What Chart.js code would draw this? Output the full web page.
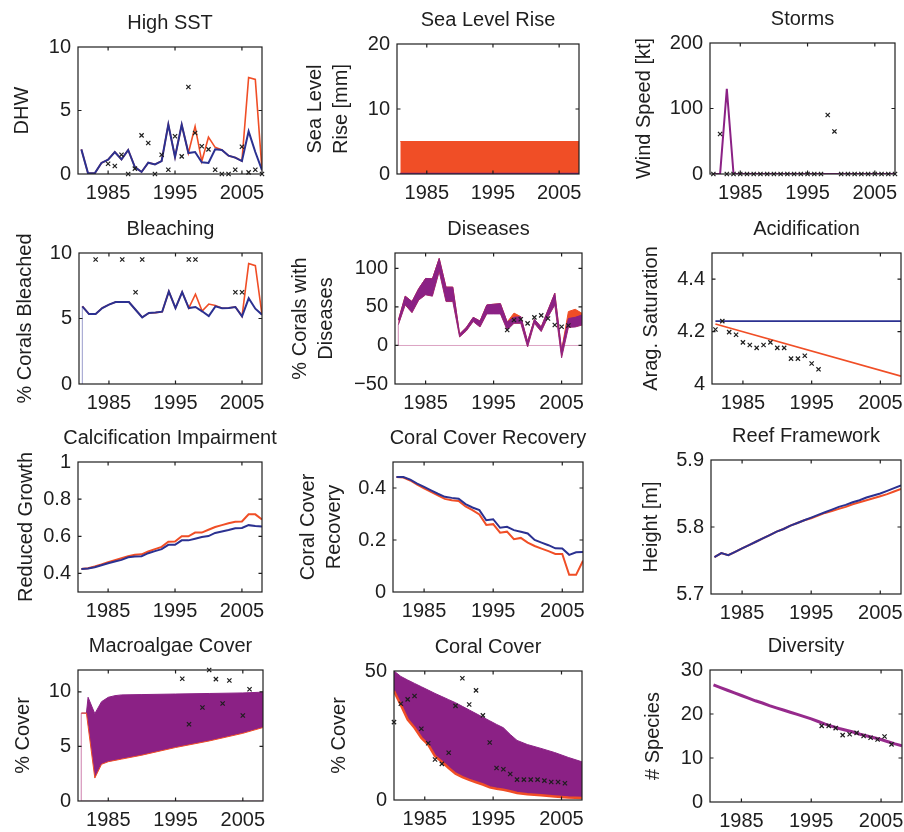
<!DOCTYPE html>
<html>
<head>
<meta charset="utf-8">
<title>Reef model hindcast</title>
<script src="https://cdn.jsdelivr.net/npm/chart.js@4.4.1/dist/chart.umd.min.js"></script>
<style>
  body { margin: 0; background: #fff; }
  #page { position: relative; width: 904px; height: 832px; overflow: hidden; background: #fff; }
  #page canvas { position: absolute; }
</style>
</head>
<body>
<div id="page"></div>
<script>
const years = [1981, 1982, 1983, 1984, 1985, 1986, 1987, 1988, 1989, 1990, 1991, 1992, 1993, 1994,
               1995, 1996, 1997, 1998, 1999, 2000, 2001, 2002, 2003, 2004, 2005, 2006, 2007, 2008]
const yearTicks = [1985, 1995, 2005]

// High SST
const sstBlue = [1.94, 0.05, 0.05, 0.87, 1.13, 1.73, 1.15, 1.89, 0.55, 0.16, 0.89, 0.76, 1.02, 3.9,
                 1.34, 3.88, 1.65, 1.73, 0.92, 0.87, 1.94, 1.89, 1.44, 1.29, 1.02, 3.36, 1.73, 0.3]
const sstRed = [1.94, 0.05, 0.05, 0.87, 1.13, 1.73, 1.15, 1.89, 0.55, 0.16, 0.89, 0.76, 1.02, 3.9,
                1.34, 3.88, 1.65, 3.75, 1.0, 2.9, 2.1, 1.89, 1.44, 1.29, 1.02, 7.6, 7.45, 0.3]
const sstObsYears = [1985, 1986, 1987, 1988, 1989, 1990, 1991, 1992, 1993, 1994, 1995, 1996,
                     1997, 1998, 1999, 2000, 2001, 2002, 2003, 2004, 2005, 2006, 2007, 2008]
const sstObs = [0.81, 0.63, 1.52, 0, 0.42, 3.04, 2.44, 0, 1.52, 0.34, 2.97, 1.39,
                6.85, 3.23, 2.18, 1.94, 0.34, 0, 0, 0.34, 2.15, 0.13, 0.34, 0]
const sstTicks = [0, 5, 10]

// Sea level rise
const slrUpper = [5, 5]
const slrLower = [0, 0]
const slrYears = [1981, 2008]
const slrTicks = [0, 10, 20]

// Storms
const stormModel = [0, 0, 130, 0, 0, 0, 0, 0, 0, 0, 0, 0, 0, 0,
                    0, 0, 0, 0, 0, 0, 0, 0, 0, 0, 0, 0, 0, 0]
const stormObs = [0, 61, 0, 0, 0, 0, 0, 0, 0, 0, 0, 0, 0, 0,
                  0, 0, 0, 90, 65, 0, 0, 0, 0, 0, 0, 0, 0, 0]
const stormTicks = [0, 100, 200]

// Bleaching
const bleachBlue = [5.93, 5.34, 5.34, 5.8, 6.06, 6.26, 6.26, 6.26, 5.67, 5.09, 5.42, 5.45, 5.52, 7.07,
                    5.8, 7.02, 5.8, 5.88, 5.55, 5.19, 5.93, 5.78, 5.8, 5.88, 5.17, 6.54, 5.75, 5.29]
const bleachRed = [5.93, 5.34, 5.34, 5.8, 6.06, 6.26, 6.26, 6.26, 5.67, 5.09, 5.42, 5.45, 5.52, 7.07,
                   5.8, 7.02, 5.8, 6.85, 5.57, 6.1, 6.0, 5.78, 5.8, 5.88, 5.17, 9.19, 9.03, 5.29]
const bleachObsYears = [1983, 1987, 1989, 1990, 1997, 1998, 2004, 2005]
const bleachObs = [9.5, 9.5, 7.0, 9.5, 9.5, 9.5, 7.0, 7.0]
const bleachTicks = [0, 5, 10]

// Diseases
const disUpper = [33, 64, 57, 74, 87, 86.5, 113, 75.7, 75.7, 14.8, 23.5, 36.5, 31.7, 52.6,
                  53.5, 54.3, 30.4, 36.5, 37.4, 5, 34, 24, 46, 67.8, -6, 35, 36.5, 39.6]
const disRedUpper = [33, 64, 57, 74, 87, 86.5, 113, 75.7, 75.7, 14.8, 23.5, 36.5, 31.7, 52.6,
                     53.5, 54.3, 30.4, 42, 37.4, 5, 34, 24, 46, 67.8, -6, 44, 47, 41.7]
const disLower = [27, 52.6, 42.6, 59, 65.7, 64, 96, 57, 57, 11, 19, 31, 24, 41,
                  41, 41, 20, 28.7, 28.7, -2, 28.7, 18, 37, 52.6, -16, 23.5, 24, 26.5]
const disObsYears = [1997, 1998, 1999, 2000, 2001, 2002, 2003, 2004, 2005, 2006]
const disObs = [20, 33, 34, 28.7, 36.5, 39, 35, 26.5, 24.3, 26]
const disTicks = [-50, 0, 50, 100]

// Acidification
const acidYears = [1981, 2008]
const acidBlue = [4.24, 4.24]
const acidRed = [4.229, 4.03]
const acidObsYears = [1981, 1982, 1983, 1984, 1985, 1986, 1987, 1988, 1989, 1990, 1991, 1992, 1993, 1994, 1995, 1996]
const acidObs = [4.208, 4.24, 4.198, 4.188, 4.159, 4.149, 4.138, 4.149, 4.159, 4.138, 4.138, 4.097, 4.097, 4.108, 4.078, 4.056]
const acidTicks = [4, 4.2, 4.4]

// Calcification impairment
const calcRed = [0.424, 0.428, 0.437, 0.448, 0.46, 0.471, 0.482, 0.493, 0.5, 0.503, 0.518, 0.531, 0.543, 0.571,
                 0.572, 0.6, 0.6, 0.62, 0.62, 0.635, 0.65, 0.66, 0.67, 0.678, 0.68, 0.718, 0.718, 0.69]
const calcBlue = [0.424, 0.426, 0.433, 0.444, 0.455, 0.464, 0.473, 0.487, 0.491, 0.493, 0.509, 0.52, 0.531, 0.554,
                  0.554, 0.578, 0.578, 0.587, 0.596, 0.601, 0.618, 0.626, 0.634, 0.643, 0.645, 0.66, 0.656, 0.653]
const calcTicks = [0.4, 0.6, 0.8, 1]

// Coral cover recovery
const recBlue = [0.442, 0.442, 0.432, 0.417, 0.404, 0.391, 0.378, 0.366, 0.362, 0.359, 0.338, 0.325, 0.315, 0.276,
                 0.28, 0.247, 0.251, 0.238, 0.232, 0.225, 0.2, 0.19, 0.18, 0.168, 0.167, 0.143, 0.153, 0.154]
const recRed = [0.442, 0.44, 0.429, 0.413, 0.399, 0.385, 0.372, 0.358, 0.353, 0.35, 0.329, 0.315, 0.298, 0.258,
                0.261, 0.228, 0.232, 0.203, 0.208, 0.19, 0.177, 0.167, 0.157, 0.146, 0.146, 0.066, 0.066, 0.12]
const recTicks = [0, 0.2, 0.4]

// Reef framework
const reefBlue = [5.755, 5.761, 5.758, 5.763, 5.768, 5.773, 5.778, 5.783, 5.788, 5.793, 5.797, 5.802, 5.806, 5.81,
                  5.814, 5.818, 5.822, 5.826, 5.83, 5.833, 5.837, 5.84, 5.844, 5.847, 5.85, 5.854, 5.858, 5.862]
const reefRed = [5.755, 5.761, 5.758, 5.763, 5.768, 5.773, 5.778, 5.783, 5.788, 5.793, 5.797, 5.802, 5.806, 5.81,
                 5.813, 5.817, 5.821, 5.824, 5.827, 5.83, 5.834, 5.837, 5.84, 5.843, 5.846, 5.849, 5.853, 5.857]
const reefTicks = [5.7, 5.8, 5.9]

// Macroalgae cover
const algaeYears = [1981, 1981.75, 1982, 1983, 1984, 1985, 1986, 1987, 1990, 1995, 2000, 2005, 2008]
const algaeUpper = [8.05, 8.05, 9.5, 8.0, 9.1, 9.5, 9.65, 9.72, 9.75, 9.8, 9.85, 9.9, 9.97]
const algaeLower = [8.05, 8.05, 6.85, 2.1, 3.36, 3.6, 3.72, 3.84, 4.2, 4.9, 5.5, 6.2, 6.73]
const algaeObsYears = [1996, 1997, 1999, 2000, 2001, 2002, 2003, 2005, 2006]
const algaeObs = [11.2, 7.03, 8.56, 12.0, 11.16, 8.93, 11.04, 7.83, 10.24]
const algaeTicks = [0, 5, 10]

// Coral cover
const coralYears = [1980.5, 1981.5, 1982.5, 1983.5, 1984.5, 1985.5, 1986.5, 1987.5, 1988.5, 1989.5, 1990.5, 1991.5,
                    1992.5, 1993.5, 1994.5, 1995.5, 1996.5, 1997.5, 1998.5, 2000, 2002, 2004, 2006, 2008]
const coralUpper = [50, 47.9, 46.5, 45.2, 43.9, 42.6, 41.3, 40.1, 38.9, 37.7, 36.3, 34.9,
                    33.5, 32.1, 30.7, 29.3, 28.0, 25.4, 23.1, 21.5, 20.0, 18.4, 16.5, 14.8]
const coralLower = [42.2, 36.8, 31.2, 28, 24.1, 21.5, 17, 14.8, 12.4, 10.2, 8.9, 7.8,
                    6.9, 6.0, 4.9, 4.4, 4.0, 3.4, 2.7, 2.2, 1.8, 1.4, 1.0, 0.8]
const coralObsYears = [1980.5, 1981.5, 1982.5, 1983.5, 1984.5, 1985.5, 1986.5, 1987.5, 1988.5, 1989.5, 1990.5, 1991.5, 1992.5,
                       1993.5, 1994.5, 1995.5, 1996.5, 1997.5, 1998.5, 1999.5, 2000.5, 2001.5, 2002.5, 2003.5, 2004.5, 2005.5]
const coralObs = [30.2, 37.3, 39, 40.3, 27.6, 22, 15.7, 14, 18.3, 36.5, 47.2, 37, 42.5,
                  32.8, 22.3, 12.4, 11.9, 10.1, 7.9, 7.9, 7.9, 7.9, 7.5, 7.0, 7.0, 6.5]
const coralTicks = [0, 50]

// Diversity
const divModel = [26.6, 26.0, 25.4, 24.8, 24.2, 23.6, 23.0, 22.5, 21.9, 21.4, 20.9, 20.4, 19.9, 19.4,
                  18.9, 18.3, 17.7, 17.2, 16.7, 16.3, 15.9, 15.4, 15.0, 14.6, 14.2, 13.7, 13.2, 12.8]
const divObsYears = [1996.5, 1997.5, 1998.5, 1999.5, 2000.5, 2001.5, 2002.5, 2003.5, 2004.5, 2005.5, 2006.5]
const divObs = [17.3, 17.3, 16.8, 15.2, 15.4, 15.7, 15.0, 14.6, 14.2, 14.9, 13.1]
const divTicks = [0, 10, 20, 30]

const FONT = "'Liberation Sans', Helvetica, Arial, sans-serif"
const INK = '#1e1e1e'
const RED = '#f04e26'
const BLUE = '#2b3191'
const PURPLE = '#8b2185'
const PINK = '#dba3c3'

const xy = (xs, ys) => xs.map((x, i) => ({ x: x, y: ys[i] }))

function lineSet(xs, ys, color, width, extra) {
    return Object.assign({
        data: xy(xs, ys), borderColor: color, backgroundColor: color,
        borderWidth: width, pointRadius: 0, fill: false, tension: 0
    }, extra || {})
}

function markSet(xs, ys) {
    return {
        data: xy(xs, ys), showLine: false, pointStyle: 'crossRot', pointRadius: 3,
        borderColor: INK, backgroundColor: INK, borderWidth: 1.2, clip: false, order: -5
    }
}

// MATLAB-like box with inward ticks on all four sides
const framePlugin = {
    id: 'frame',
    afterDraw(chart) {
        const { ctx, chartArea: a, scales } = chart
        const tl = 3.5
        ctx.save()
        ctx.strokeStyle = INK
        ctx.lineWidth = 1.2
        ctx.strokeRect(a.left, a.top, a.right - a.left, a.bottom - a.top)
        ctx.beginPath()
        scales.x.ticks.forEach(t => {
            const px = scales.x.getPixelForValue(t.value)
            ctx.moveTo(px, a.bottom); ctx.lineTo(px, a.bottom - tl)
            ctx.moveTo(px, a.top); ctx.lineTo(px, a.top + tl)
        })
        scales.y.ticks.forEach(t => {
            const py = scales.y.getPixelForValue(t.value)
            if (py < a.top + 1 || py > a.bottom - 1) return
            ctx.moveTo(a.left, py); ctx.lineTo(a.left + tl, py)
            ctx.moveTo(a.right, py); ctx.lineTo(a.right - tl, py)
        })
        ctx.stroke()
        ctx.restore()
    }
}

function makePanel(p) {
    const [l, t, r, b] = p.box
    // canvas is symmetric around the plot so the full-width title centres over it
    const padL = l - p.left, padT = 45, padB = 35, padR = padL
    const canvas = document.createElement('canvas')
    canvas.width = r - l + padL + padR
    canvas.height = b - t + padT + padB
    canvas.style.left = p.left + 'px'
    canvas.style.top = (t - padT) + 'px'
    document.getElementById('page').appendChild(canvas)

    new Chart(canvas, {
        type: 'line',
        data: { datasets: p.datasets },
        options: {
            responsive: false,
            animation: false,
            layout: { padding: 0 },
            plugins: {
                legend: { display: false },
                tooltip: { enabled: false },
                title: {
                    display: true, text: p.title, color: INK,
                    font: { family: FONT, size: 20, weight: 'normal', lineHeight: 1.2 },
                    padding: { top: 9.5, bottom: 11.5 }
                }
            },
            scales: {
                x: {
                    type: 'linear', min: 1980.5, max: 2008,
                    grid: { display: false, drawTicks: false }, border: { display: false },
                    ticks: { color: INK, font: { family: FONT, size: 20 }, padding: 7, maxRotation: 0, autoSkip: false,
                             callback: v => String(v) },
                    afterBuildTicks: s => { s.ticks = yearTicks.map(v => ({ value: v })) },
                    afterFit: s => { s.height = padB }
                },
                y: {
                    type: 'linear', min: p.yMin, max: p.yMax,
                    grid: { display: false, drawTicks: false }, border: { display: false },
                    ticks: { color: INK, font: { family: FONT, size: 20 }, padding: 7, autoSkip: false,
                             callback: v => String(v).replace('-', '\u2212') },
                    afterBuildTicks: s => { s.ticks = p.yTicks.map(v => ({ value: v })) },
                    afterFit: s => { s.width = padL },
                    title: {
                        display: true, text: p.yTitle, color: INK,
                        font: { family: FONT, size: 20, lineHeight: 1.3 },
                        padding: { top: p.yTitleX - p.left - 13, bottom: 0 }
                    }
                },
                // empty right-hand axis that only reserves the margin
                yRight: {
                    type: 'linear', position: 'right', min: p.yMin, max: p.yMax,
                    grid: { display: false, drawTicks: false }, border: { display: false },
                    ticks: { display: false },
                    afterFit: s => { s.width = padR }
                }
            }
        },
        plugins: [framePlugin]
    })
}

const panels = [
    {
        title: 'High SST', yTitle: ['DHW'], yTitleX: 22.7, left: 0, box: [78, 47, 262, 174],
        yMin: 0, yMax: 10, yTicks: sstTicks,
        datasets: [markSet(sstObsYears, sstObs), lineSet(years, sstBlue, BLUE, 2), lineSet(years, sstRed, RED, 1.6)]
    },
    {
        title: 'Sea Level Rise', yTitle: ['Sea Level', 'Rise [mm]'], yTitleX: 315.7, left: 283, box: [397, 44, 579, 174],
        yMin: 0, yMax: 20, yTicks: slrTicks,
        datasets: [lineSet(slrYears, slrLower, PURPLE, 2.5),
                   lineSet(slrYears, slrUpper, RED, 1, { fill: 2 }),
                   lineSet(slrYears, slrLower, RED, 1)]
    },
    {
        title: 'Storms', yTitle: ['Wind Speed [kt]'], yTitleX: 644.3, left: 600, box: [710, 43, 895, 174],
        yMin: 0, yMax: 200, yTicks: stormTicks,
        datasets: [markSet(years, stormObs), lineSet(years, stormModel, PURPLE, 2)]
    },
    {
        title: 'Bleaching', yTitle: ['% Corals Bleached'], yTitleX: 25, left: 0, box: [79, 253, 262, 384],
        yMin: 0, yMax: 10, yTicks: bleachTicks,
        datasets: [markSet(bleachObsYears, bleachObs), lineSet(years, bleachBlue, BLUE, 2),
                   lineSet(years, bleachRed, RED, 1.6), lineSet([1981, 1981], [0, 5.93], '#9a9ccc', 1)]
    },
    {
        title: 'Diseases', yTitle: ['% Corals with', 'Diseases'], yTitleX: 300.7, left: 283, box: [395, 253, 582, 384],
        yMin: -50, yMax: 120, yTicks: disTicks,
        datasets: [markSet(disObsYears, disObs),
                   lineSet(years, disUpper, PURPLE, 1, { fill: 3 }),
                   lineSet(years, disRedUpper, RED, 1, { fill: 3 }),
                   lineSet(years, disLower, PURPLE, 1),
                   lineSet([1981, 1981, 2008], [27, 0, 0], PINK, 1)]
    },
    {
        title: 'Acidification', yTitle: ['Arag. Saturation'], yTitleX: 651.7, left: 600, box: [712, 253, 901, 384],
        yMin: 4, yMax: 4.5, yTicks: acidTicks,
        datasets: [markSet(acidObsYears, acidObs), lineSet(acidYears, acidBlue, BLUE, 1.6), lineSet(acidYears, acidRed, RED, 1.6)]
    },
    {
        title: 'Calcification Impairment', yTitle: ['Reduced Growth'], yTitleX: 26.7, left: 0, box: [78, 462, 262, 592],
        yMin: 0.3, yMax: 1, yTicks: calcTicks,
        datasets: [lineSet(years, calcBlue, BLUE, 2), lineSet(years, calcRed, RED, 2)]
    },
    {
        title: 'Coral Cover Recovery', yTitle: ['Coral Cover', 'Recovery'], yTitleX: 308.3, left: 283, box: [393, 462, 583, 592],
        yMin: 0, yMax: 0.5, yTicks: recTicks,
        datasets: [lineSet(years, recBlue, BLUE, 2), lineSet(years, recRed, RED, 2)]
    },
    {
        title: 'Reef Framework', yTitle: ['Height [m]'], yTitleX: 651.7, left: 600, box: [711, 460, 901, 594],
        yMin: 5.7, yMax: 5.9, yTicks: reefTicks,
        datasets: [lineSet(years, reefBlue, BLUE, 2), lineSet(years, reefRed, RED, 2)]
    },
    {
        title: 'Macroalgae Cover', yTitle: ['% Cover'], yTitleX: 23.3, left: 0, box: [78, 670, 263, 801],
        yMin: 0, yMax: 12, yTicks: algaeTicks,
        datasets: [markSet(algaeObsYears, algaeObs),
                   lineSet(algaeYears, algaeUpper, PURPLE, 1, { fill: 2 }),
                   lineSet(algaeYears, algaeLower, RED, 1, { order: -1 }),
                   lineSet([1981, 1981, 2008], [8.05, 0, 0], PINK, 1)]
    },
    {
        title: 'Coral Cover', yTitle: ['% Cover'], yTitleX: 339.3, left: 283, box: [394, 671, 582, 800],
        yMin: 0, yMax: 50, yTicks: coralTicks,
        datasets: [markSet(coralObsYears, coralObs),
                   lineSet(coralYears, coralUpper, PURPLE, 1, { fill: 2 }),
                   lineSet(coralYears, coralLower, RED, 2.5, { order: -1 })]
    },
    {
        title: 'Diversity', yTitle: ['# Species'], yTitleX: 653.3, left: 600, box: [710, 670, 902, 802],
        yMin: 0, yMax: 30, yTicks: divTicks,
        datasets: [markSet(divObsYears, divObs), lineSet(years, divModel, '#962a8c', 3)]
    }
]

panels.forEach(makePanel)
</script>
</body>
</html>
